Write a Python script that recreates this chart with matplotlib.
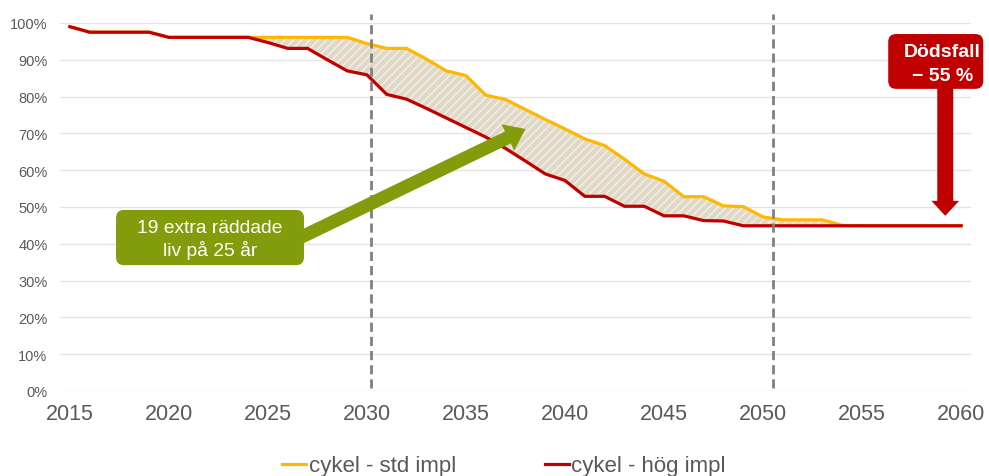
import matplotlib
matplotlib.use("Agg")
import matplotlib.pyplot as plt
from matplotlib.patches import FancyBboxPatch, FancyArrowPatch, ArrowStyle
from matplotlib.lines import Line2D

plt.rcParams['font.family'] = ['Liberation Sans', 'DejaVu Sans']
plt.rcParams['hatch.linewidth'] = 0.9

# ---------------- data ----------------
years = list(range(2015, 2061))
std_impl = [99.0, 97.5, 97.5, 97.5, 97.5, 96.1, 96.1, 96.1, 96.1, 96.1,
            96.1, 96.1, 96.1, 96.1, 96.1, 94.4, 93.1, 93.1, 90.2, 87.0,
            85.7, 80.4, 79.2, 76.5, 73.8, 71.2, 68.5, 66.7, 63.0, 59.0,
            57.0, 52.8, 52.8, 50.3, 50.1, 47.3, 46.5, 46.5, 46.5, 45.0,
            44.9, 44.9, 44.9, 44.9, 44.9, 44.9]
hog_impl = [99.0, 97.5, 97.5, 97.5, 97.5, 96.1, 96.1, 96.1, 96.1, 96.1,
            94.7, 93.1, 93.1, 90.0, 87.0, 85.9, 80.6, 79.3, 76.8, 74.2,
            71.6, 69.0, 65.9, 62.5, 59.0, 57.2, 52.9, 52.9, 50.2, 50.2,
            47.6, 47.6, 46.3, 46.2, 44.9, 44.9, 44.9, 44.9, 44.9, 44.9,
            44.9, 44.9, 44.9, 44.9, 44.9, 44.9]
series_labels = ["cykel - std impl", "cykel - hög impl"]
y_ticks = list(range(0, 101, 10))
x_ticks = list(range(2015, 2061, 5))
milestones = [2030.2, 2050.5]
green_text = "19 extra räddade\nliv på 25 år"
red_text = "Dödsfall\n\u2212 55 %"

# ---------------- style ----------------
C_STD = '#ffb800'
C_HOG = '#c00000'
C_GREEN = '#839c0c'
C_TEXT = '#595959'

fig = plt.figure(figsize=(9.89, 4.77), dpi=100)
ax = fig.add_axes([60/989, 85/477, 911/989, 368/477])
ax.set_xlim(2014.5, 2060.5)
ax.set_ylim(0, 100)

ax.set_yticks(y_ticks)
ax.set_yticklabels([f"{v}%" for v in y_ticks])
ax.set_xticks(x_ticks)
ax.set_xticklabels([str(v) for v in x_ticks])
ax.grid(axis='y', color='#e4e4e4', lw=1.0)
ax.set_axisbelow(True)
for s in ax.spines.values():
    s.set_visible(False)
ax.tick_params(axis='both', length=0, colors=C_TEXT)
ax.tick_params(axis='y', labelsize=10.5, pad=9)
ax.tick_params(axis='x', labelsize=15.5, pad=9)

# hatched band between the two series
ax.fill_between(years, hog_impl, std_impl, facecolor='#e0d9c8', edgecolor='#f6f3ec',
                hatch='////', linewidth=0, zorder=2)
ax.plot(years, std_impl, color=C_STD, lw=2.3, zorder=3, solid_joinstyle='miter')
ax.plot(years, hog_impl, color=C_HOG, lw=2.3, zorder=4, solid_joinstyle='miter')

# dashed milestone lines
for m in milestones:
    ax.plot([m, m], [0.8, 102.5], color='#808080', lw=2, ls=(0, (3.3, 1.8)),
            clip_on=False, zorder=5)

# green callout
aspect = (911/46) / (368/100)
gbox = FancyBboxPatch((2017.33, 34.2), 9.49, 15.0,
                      boxstyle='round,pad=0,rounding_size=0.4',
                      mutation_aspect=aspect, fc=C_GREEN, ec='none', zorder=6)
ax.add_patch(gbox)
garrow = FancyArrowPatch((2026.6, 41.6), (2038.0, 71.2),
                         arrowstyle=ArrowStyle.Simple(head_length=14, head_width=21, tail_width=9.5),
                         mutation_scale=1, shrinkA=0, shrinkB=0,
                         fc=C_GREEN, ec='none', zorder=6)
ax.add_patch(garrow)
ax.text(2022.08, 41.4, green_text, ha='center', va='center', color='white',
        fontsize=13.9, linespacing=1.25, zorder=7)

# red callout
rbox = FancyBboxPatch((2056.32, 82.1), 4.8, 14.9,
                      boxstyle='round,pad=0,rounding_size=0.4',
                      mutation_aspect=aspect, fc=C_HOG, ec='none', zorder=7,
                      clip_on=False)
ax.add_patch(rbox)
rarrow = FancyArrowPatch((2059.2, 83.0), (2059.2, 47.6),
                         arrowstyle=ArrowStyle.Simple(head_length=10.8, head_width=20, tail_width=11.5),
                         mutation_scale=1, shrinkA=0, shrinkB=0,
                         fc=C_HOG, ec='none', zorder=7)
ax.add_patch(rarrow)
ax.text(2059.07, 89.0, red_text, ha='center', va='center', color='white',
        fontsize=14, fontweight='bold', linespacing=1.55, zorder=8, clip_on=False)

# legend
handles = [Line2D([], [], color=C_STD, lw=2.3), Line2D([], [], color=C_HOG, lw=2.3)]
fig.legend(handles, series_labels, loc='center', bbox_to_anchor=(0.5096, 0.021),
           ncol=2, frameon=False, fontsize=16, handlelength=1.1, handletextpad=0.1,
           columnspacing=4.0, labelcolor=C_TEXT)

fig.savefig('out.png', dpi=100)
